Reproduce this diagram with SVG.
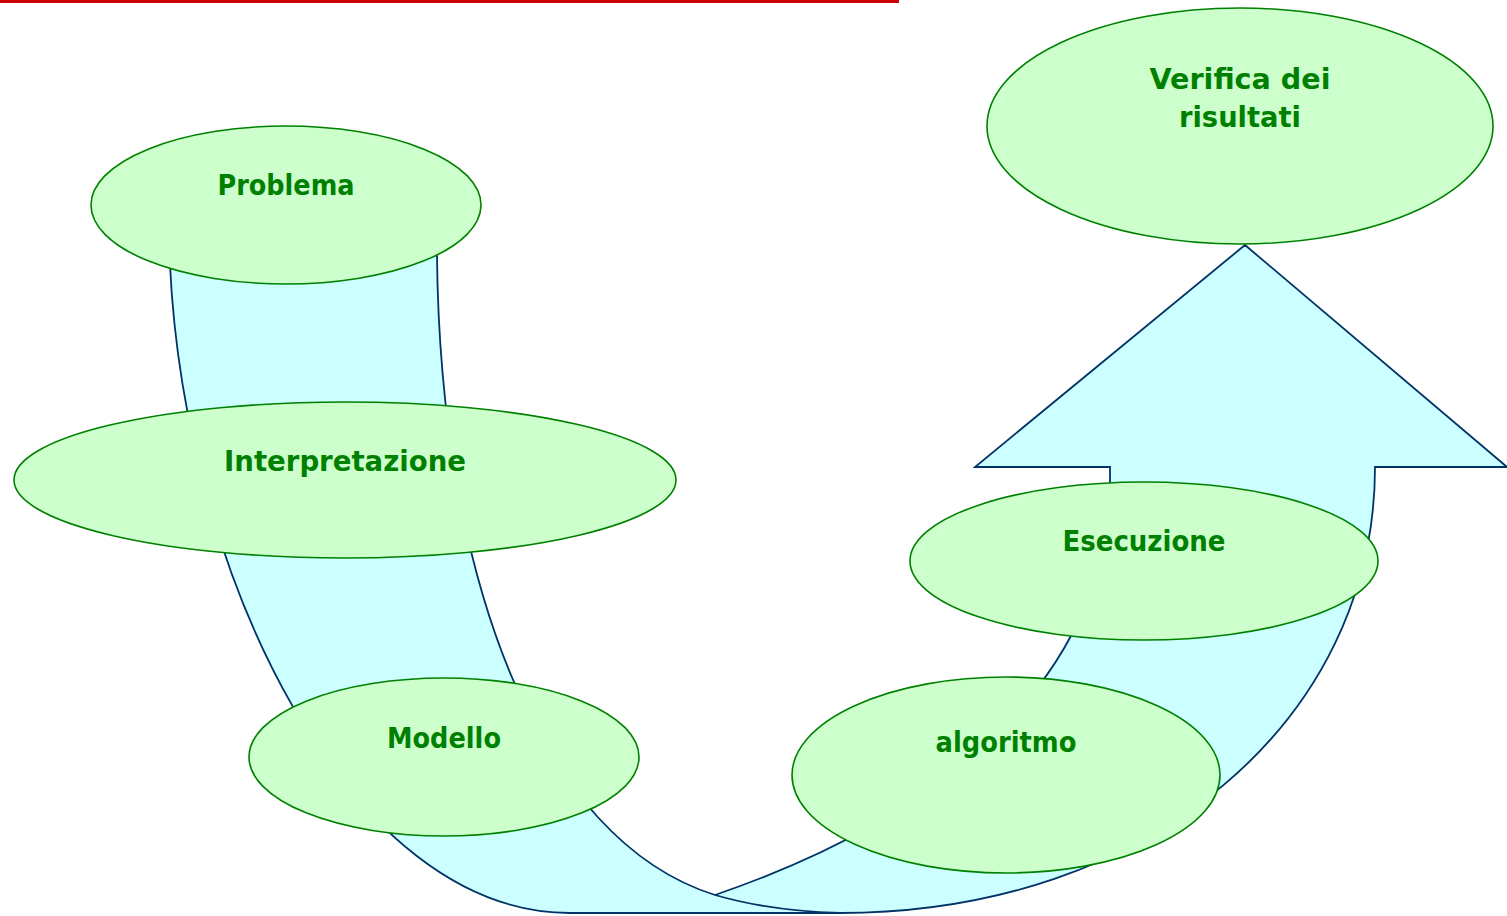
<svg xmlns="http://www.w3.org/2000/svg" width="1507" height="916" viewBox="0 0 1507 916">
<style>
.node{fill:#CCFFCC;stroke:#008000;stroke-width:1.6}
.arrow{fill:#CCFFFF;stroke:#003366;stroke-width:1.8;stroke-linejoin:miter}
.line{fill:none;stroke:#003366;stroke-width:1.8}
.lbl{font-family:"DejaVu Sans",sans-serif;font-weight:bold;font-size:28px;fill:#008000;text-anchor:middle}
</style>
<rect x="0" y="0" width="1507" height="916" fill="#FFFFFF"/>
<rect x="0" y="0" width="899" height="3" fill="#CC0000"/>
<g id="connectors">
<path class="arrow" d="M170,265 C185,580 350,913 570,913 L840,913 C1150,913 1375,720 1375,467 L1507,467 L1245,245 L975,467 L1110,467 L1110,483 C1110,620 1020,790 715,895 C540,840 440,580 437,255 Z"/>
<path class="line" d="M715,895 Q770,911 840,913"/>
</g>
<g id="problema">
<ellipse class="node" cx="286" cy="205" rx="195" ry="79"/>
<text class="lbl" x="286" y="195" textLength="137" lengthAdjust="spacingAndGlyphs">Problema</text>
</g>
<g id="interpretazione">
<ellipse class="node" cx="345" cy="480" rx="331" ry="78"/>
<text class="lbl" x="345" y="471" textLength="242" lengthAdjust="spacingAndGlyphs">Interpretazione</text>
</g>
<g id="modello">
<ellipse class="node" cx="444" cy="757" rx="195" ry="79"/>
<text class="lbl" x="444" y="748" textLength="114" lengthAdjust="spacingAndGlyphs">Modello</text>
</g>
<g id="algoritmo">
<ellipse class="node" cx="1006" cy="775" rx="214" ry="98"/>
<text class="lbl" x="1006" y="752" textLength="141" lengthAdjust="spacingAndGlyphs">algoritmo</text>
</g>
<g id="esecuzione">
<ellipse class="node" cx="1144" cy="561" rx="234" ry="79"/>
<text class="lbl" x="1144" y="551" textLength="163" lengthAdjust="spacingAndGlyphs">Esecuzione</text>
</g>
<g id="verifica">
<ellipse class="node" cx="1240" cy="126" rx="253" ry="118"/>
<text class="lbl" x="1240" y="89" textLength="181" lengthAdjust="spacingAndGlyphs">Verifica dei</text>
<text class="lbl" x="1240" y="127" textLength="122" lengthAdjust="spacingAndGlyphs">risultati</text>
</g>
</svg>
